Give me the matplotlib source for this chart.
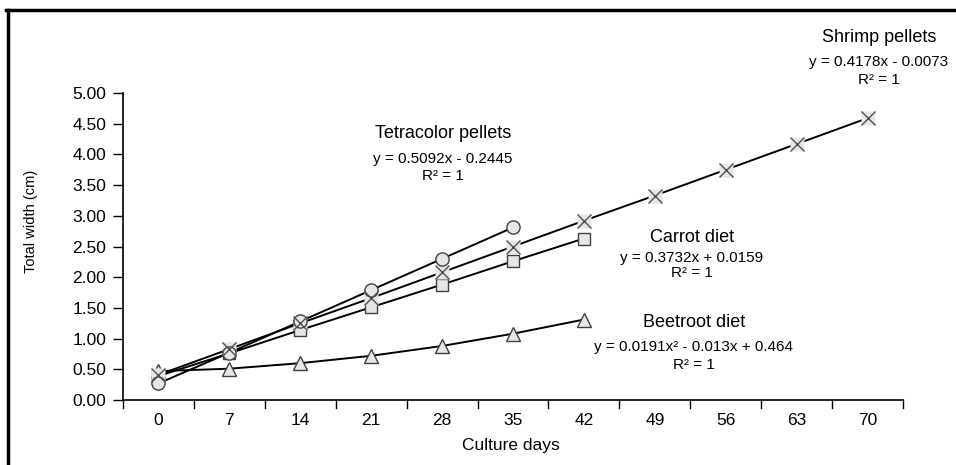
import matplotlib
matplotlib.use("Agg")
import matplotlib.pyplot as plt
from matplotlib.lines import Line2D

plt.rcParams['font.family'] = ['Liberation Sans', 'DejaVu Sans']

# Culture days (category axis)
days = [0, 7, 14, 21, 28, 35, 42, 49, 56, 63, 70]

# Total width (cm) per diet
tetracolor = [0.27, 0.77, 1.28, 1.79, 2.30, 2.81]
shrimp = [0.41, 0.83, 1.25, 1.66, 2.08, 2.50, 2.92, 3.33, 3.75, 4.17, 4.59]
carrot = [0.39, 0.76, 1.14, 1.51, 1.88, 2.26, 2.63]
beetroot = [0.47, 0.51, 0.60, 0.72, 0.88, 1.08, 1.31]

yticks = [0.0, 0.5, 1.0, 1.5, 2.0, 2.5, 3.0, 3.5, 4.0, 4.5, 5.0]

fig = plt.figure(figsize=(9.56, 4.65), dpi=100)
ax = fig.add_axes([123 / 956, 65 / 465, 780 / 956, 307 / 465])

fill = '#e6e6e6'
edge = '#404040'

def series(vals, marker, ms):
    x = list(range(len(vals)))
    ax.plot(x, vals, color='black', lw=1.4, zorder=2)
    ax.plot(x, vals, ls='none', marker=marker, ms=ms, mfc=fill, mec=edge,
            mew=1.0, zorder=3)

series(beetroot, '^', 9.5)
series(carrot, 's', 9)
# shrimp: X with a light box behind it
xs = list(range(len(shrimp)))
ax.plot(xs, shrimp, color='black', lw=1.4, zorder=2)
ax.plot(xs, shrimp, ls='none', marker='s', ms=9.5, mfc=fill, mec='none', zorder=3)
ax.plot(xs, shrimp, ls='none', marker='x', ms=9.5, mec='#505050', mew=1.0, zorder=4)
series(tetracolor, 'o', 9.5)

ax.set_xlim(-0.5, len(days) - 0.5)
ax.set_ylim(0, 5)
ax.set_xticks(range(len(days)))
ax.set_xticklabels([str(d) for d in days], fontsize=12.5)
ax.tick_params(axis='x', length=0, pad=9)
ax.set_yticks(yticks)
ax.set_yticklabels(['%.2f' % v for v in yticks], fontsize=12.5)
ax.tick_params(axis='y', direction='out', length=7, width=1, pad=5)

# category boundary ticks on the x axis
for b in range(len(days) + 1):
    ax.plot([b - 0.5, b - 0.5], [0, -0.13], color='black', lw=1,
            clip_on=False, zorder=1)

for s in ['top', 'right']:
    ax.spines[s].set_visible(False)
ax.spines['left'].set_linewidth(1.2)
ax.spines['bottom'].set_linewidth(1.2)

ax.set_xlabel('Culture days', fontsize=12.5)
ax.xaxis.set_label_coords((511 - 123) / 780, -(438 - 400) / 307)
ax.set_ylabel('Total width (cm)', fontsize=10.5)
ax.yaxis.set_label_coords(-(123 - 38) / 780, (400 - 221) / 307)

# trend line labels
def label(x, y, title, eq, r2y, eqy):
    fig.text(x / 956, 1 - y / 465, title, ha='center', va='center', fontsize=13)
    fig.text(x / 956, 1 - eqy / 465, eq, ha='center', va='center', fontsize=11)
    fig.text(x / 956, 1 - r2y / 465, 'R² = 1', ha='center', va='center', fontsize=11)

label(443, 133, 'Tetracolor pellets', 'y = 0.5092x - 0.2445', 176, 159)
label(879, 37, 'Shrimp pellets', 'y = 0.4178x - 0.0073', 80, 62)
label(692, 237, 'Carrot diet', 'y = 0.3732x + 0.0159', 273, 258)
label(694, 322, 'Beetroot diet', 'y = 0.0191x² - 0.013x + 0.464', 365, 347)

# outer frame (left and top edges)
fig.add_artist(Line2D([8 / 956, 8 / 956], [0, 1 - 10 / 465], color='black',
                      lw=2.5, transform=fig.transFigure))
fig.add_artist(Line2D([6 / 956, 1], [1 - 10 / 465, 1 - 10 / 465], color='black',
                      lw=2.5, transform=fig.transFigure))

fig.savefig('out.png', dpi=100)
